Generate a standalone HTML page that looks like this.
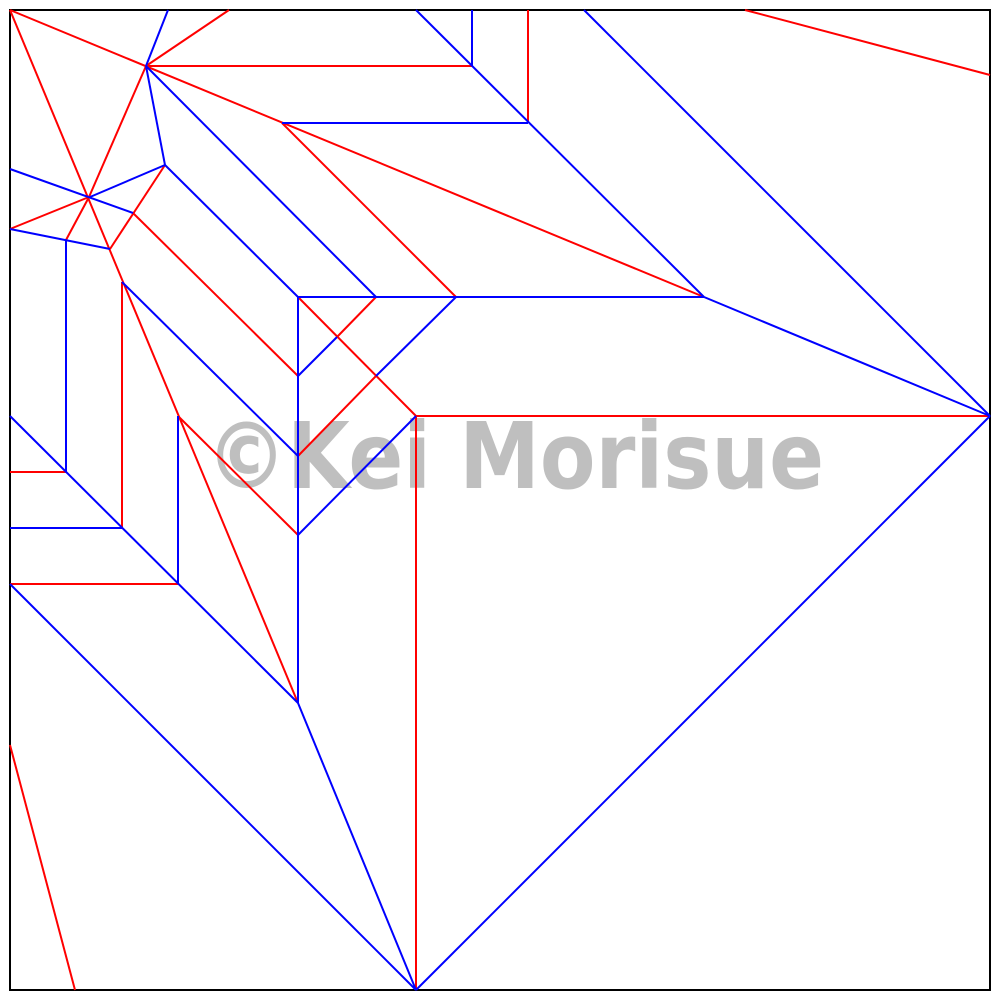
<!DOCTYPE html>
<html><head><meta charset="utf-8"><style>html,body{margin:0;padding:0;background:#fff;width:1000px;height:1000px;overflow:hidden}</style></head>
<body>
<svg id="cp" width="1000" height="1000" viewBox="0 0 1000 1000" xmlns="http://www.w3.org/2000/svg">
<rect x="10" y="10" width="980" height="980" fill="#fff" stroke="#000" stroke-width="2"/>
<text x="206" y="488" textLength="618" lengthAdjust="spacingAndGlyphs" font-family="DejaVu Sans, Liberation Sans, sans-serif" font-weight="bold" font-size="92" fill="#bfbfbf">©Kei Morisue</text>
<g id="lines"></g>
</svg>
<script>
const mountainLines = [
[10,10,704,297],[10,10,298,703],[146,66,229,10],[146,66,472,66],[146,66,89,197],
[89,197,10,229],[89,197,66,240],[165,165,110,249],[133,213,298,376],[122,282,122,528],
[178,416,298,535],[282,123,456,297],[298,297,416,416],[376,297,337,337],[376,376,298,456],
[416,416,990,416],[416,416,416,990],[10,472,66,472],[10,584,178,584],[528,10,528,123],
[745,10,990,75],[10,745,75,990]
];
const valleyLines = [
[146,66,168,10],[146,66,165,165],[146,66,376,297],[165,165,298,297],[298,297,298,703],
[122,282,298,456],[165,165,90,197],[10,169,133,213],[10,229,110,249],[66,240,66,472],
[298,297,704,297],[704,297,990,416],[456,297,376,376],[337,337,298,376],[10,416,298,703],
[10,528,122,528],[178,416,178,584],[10,584,416,990],[298,703,416,990],[298,535,416,416],
[416,990,990,416],[584,10,990,416],[416,10,704,297],[472,10,472,66],[282,123,528,123]
];
const g = document.getElementById('lines');
function draw(list, color, name){
  list.forEach(s=>{
    const l = document.createElementNS('http://www.w3.org/2000/svg','line');
    l.setAttribute('x1',s[0]);l.setAttribute('y1',s[1]);l.setAttribute('x2',s[2]);l.setAttribute('y2',s[3]);
    l.setAttribute('stroke',color);l.setAttribute('stroke-width','2');
    
    
    g.appendChild(l);
  });
}
draw(mountainLines,'#ff0000','mountain-fold');
draw(valleyLines,'#0000ff','valley-fold');
</script>
</body></html>
